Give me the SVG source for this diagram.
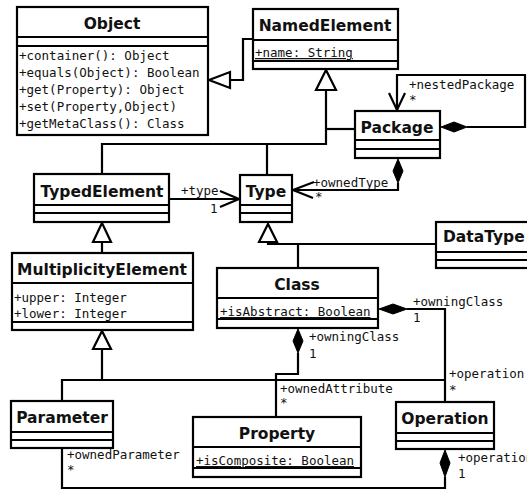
<svg xmlns="http://www.w3.org/2000/svg" width="527" height="491" viewBox="0 0 527 491">
<style>
.box{fill:#fff;stroke:#000;stroke-width:2.2}
.ln{fill:none;stroke:#000;stroke-width:2.2}
.t{font-family:"DejaVu Sans",sans-serif;font-weight:bold;font-size:15.5px;fill:#111;text-anchor:middle}
.m{font-family:"DejaVu Sans Mono",monospace;font-size:12.5px;fill:#111}
.u{text-decoration:underline}
.tri{fill:#fff;stroke:#000;stroke-width:2.2}
.dia{fill:#000;stroke:#000;stroke-width:1}
.arr{fill:none;stroke:#000;stroke-width:2.2}
</style>
<rect width="527" height="491" fill="#fff"/>
<g id="connectors">
  <!-- NamedElement -> Object generalization -->
  <polyline class="ln" points="253,39 243,39 243,80 230,80"/>
  <polygon class="tri" points="209,80 230,72 230,88"/>
  <!-- generalizations to NamedElement -->
  <polygon class="tri" points="326,70 316,90 336,90"/>
  <polyline class="ln" points="326,90 326,144 102,144 102,174"/>
  <line class="ln" x1="326" y1="129" x2="355" y2="129"/>
  <line class="ln" x1="267" y1="144" x2="267" y2="175"/>
  <!-- Package nestedPackage self association -->
  <polyline class="ln" points="397,110 397,75 525,75 525,127 467,127"/>
  <polyline class="arr" points="389,93 397,110 405,93"/>
  <polygon class="dia" points="441,127 454,122 467,127 454,132"/>
  <!-- Package ownedType -->
  <polygon class="dia" points="398,159 393,171 398,183 403,171"/>
  <polyline class="ln" points="398,183 398,190 293,190"/>
  <polyline class="arr" points="314,182 293,190 313,198"/>
  <!-- TypedElement type -->
  <line class="ln" x1="169" y1="199" x2="239" y2="199"/>
  <polyline class="arr" points="220,191 239,199 220,207"/>
  <!-- TypedElement <- MultiplicityElement -->
  <polygon class="tri" points="102,223 93,242 111,242"/>
  <line class="ln" x1="102" y1="242" x2="102" y2="253"/>
  <!-- Type <- Class, DataType -->
  <polygon class="tri" points="268,224 259,242 277,242"/>
  <polyline class="ln" points="268,242 268,244 436,244"/>
  <line class="ln" x1="298" y1="244" x2="298" y2="268"/>
  <!-- MultiplicityElement <- Parameter, Property, Operation -->
  <polygon class="tri" points="102,331 93,349 111,349"/>
  <polyline class="ln" points="102,349 102,380"/>
  <polyline class="ln" points="62,401 62,380 445,380"/>
  <!-- Class owningClass -> Property -->
  <polygon class="dia" points="298,329 293,341 298,353 303,341"/>
  <polyline class="ln" points="298,353 298,374 276,374 276,417"/>
  <!-- Class owningClass -> Operation -->
  <polygon class="dia" points="379,309 393,304 407,309 393,314"/>
  <polyline class="ln" points="407,309 445,309 445,402"/>
  <!-- Operation -> Parameter -->
  <polygon class="dia" points="445,450 440,463 445,477 450,463"/>
  <polyline class="ln" points="445,477 445,488 62,488 62,448"/>
</g>
<g id="Object">
  <rect class="box" x="17" y="7" width="191" height="128"/>
  <line class="ln" x1="17" y1="37" x2="208" y2="37"/>
  <line class="ln" x1="17" y1="46" x2="208" y2="46"/>
  <text class="t" x="112" y="29">Object</text>
  <text class="m" x="19" y="60">+container(): Object</text>
  <text class="m" x="19" y="77">+equals(Object): Boolean</text>
  <text class="m" x="19" y="94">+get(Property): Object</text>
  <text class="m" x="19" y="111">+set(Property,Object)</text>
  <text class="m" x="19" y="128">+getMetaClass(): Class</text>
</g>
<g id="NamedElement">
  <rect class="box" x="253" y="9" width="145" height="60"/>
  <line class="ln" x1="253" y1="40" x2="398" y2="40"/>
  <line class="ln" x1="253" y1="61" x2="398" y2="61"/>
  <text class="t" x="325" y="31">NamedElement</text>
  <text class="m u" x="255" y="57">+name: String</text>
</g>
<g id="Package">
  <rect class="box" x="355" y="111" width="85" height="47"/>
  <line class="ln" x1="355" y1="140" x2="440" y2="140"/>
  <line class="ln" x1="355" y1="149" x2="440" y2="149"/>
  <text class="t" x="397" y="133">Package</text>
</g>
<g id="TypedElement">
  <rect class="box" x="34" y="174" width="135" height="48"/>
  <line class="ln" x1="34" y1="205" x2="169" y2="205"/>
  <line class="ln" x1="34" y1="213" x2="169" y2="213"/>
  <text class="t" x="102" y="197">TypedElement</text>
</g>
<g id="Type">
  <rect class="box" x="240" y="175" width="52" height="47"/>
  <line class="ln" x1="240" y1="205" x2="292" y2="205"/>
  <line class="ln" x1="240" y1="213" x2="292" y2="213"/>
  <text class="t" x="266" y="197">Type</text>
</g>
<g id="DataType">
  <rect class="box" x="436" y="222" width="100" height="46"/>
  <line class="ln" x1="436" y1="252" x2="536" y2="252"/>
  <line class="ln" x1="436" y1="260" x2="536" y2="260"/>
  <text class="t" x="443" y="242" style="text-anchor:start">DataType</text>
</g>
<g id="MultiplicityElement">
  <rect class="box" x="12" y="253" width="181" height="77"/>
  <line class="ln" x1="12" y1="283" x2="193" y2="283"/>
  <line class="ln" x1="12" y1="322" x2="193" y2="322"/>
  <text class="t" x="102" y="275">MultiplicityElement</text>
  <text class="m" x="14" y="302">+upper: Integer</text>
  <text class="m" x="14" y="318">+lower: Integer</text>
</g>
<g id="Class">
  <rect class="box" x="217" y="268" width="161" height="60"/>
  <line class="ln" x1="217" y1="298" x2="378" y2="298"/>
  <line class="ln" x1="217" y1="319" x2="378" y2="319"/>
  <text class="t" x="297" y="290">Class</text>
  <text class="m u" x="220" y="316">+isAbstract: Boolean</text>
</g>
<g id="Parameter">
  <rect class="box" x="11" y="401" width="102" height="47"/>
  <line class="ln" x1="11" y1="432" x2="113" y2="432"/>
  <line class="ln" x1="11" y1="440" x2="113" y2="440"/>
  <text class="t" x="62" y="423">Parameter</text>
</g>
<g id="Property">
  <rect class="box" x="193" y="417" width="168" height="60"/>
  <line class="ln" x1="193" y1="447" x2="361" y2="447"/>
  <line class="ln" x1="193" y1="468" x2="361" y2="468"/>
  <text class="t" x="277" y="439">Property</text>
  <text class="m u" x="196" y="465">+isComposite: Boolean</text>
</g>
<g id="Operation">
  <rect class="box" x="396" y="402" width="98" height="47"/>
  <line class="ln" x1="396" y1="433" x2="494" y2="433"/>
  <line class="ln" x1="396" y1="441" x2="494" y2="441"/>
  <text class="t" x="445" y="424">Operation</text>
</g>
<g id="labels">
  <text class="m" x="409" y="89">+nestedPackage</text>
  <text class="m" x="409" y="104">*</text>
  <text class="m" x="313" y="187">+ownedType</text>
  <text class="m" x="315" y="201">*</text>
  <text class="m" x="181" y="195">+type</text>
  <text class="m" x="210" y="213">1</text>
  <text class="m" x="413" y="306">+owningClass</text>
  <text class="m" x="413" y="322">1</text>
  <text class="m" x="309" y="341">+owningClass</text>
  <text class="m" x="309" y="358">1</text>
  <text class="m" x="280" y="393">+ownedAttribute</text>
  <text class="m" x="280" y="407">*</text>
  <text class="m" x="449" y="378">+operation</text>
  <text class="m" x="449" y="394">*</text>
  <text class="m" x="67" y="459">+ownedParameter</text>
  <text class="m" x="67" y="474">*</text>
  <text class="m" x="458" y="462">+operation</text>
  <text class="m" x="458" y="478">1</text>
</g>
</svg>
